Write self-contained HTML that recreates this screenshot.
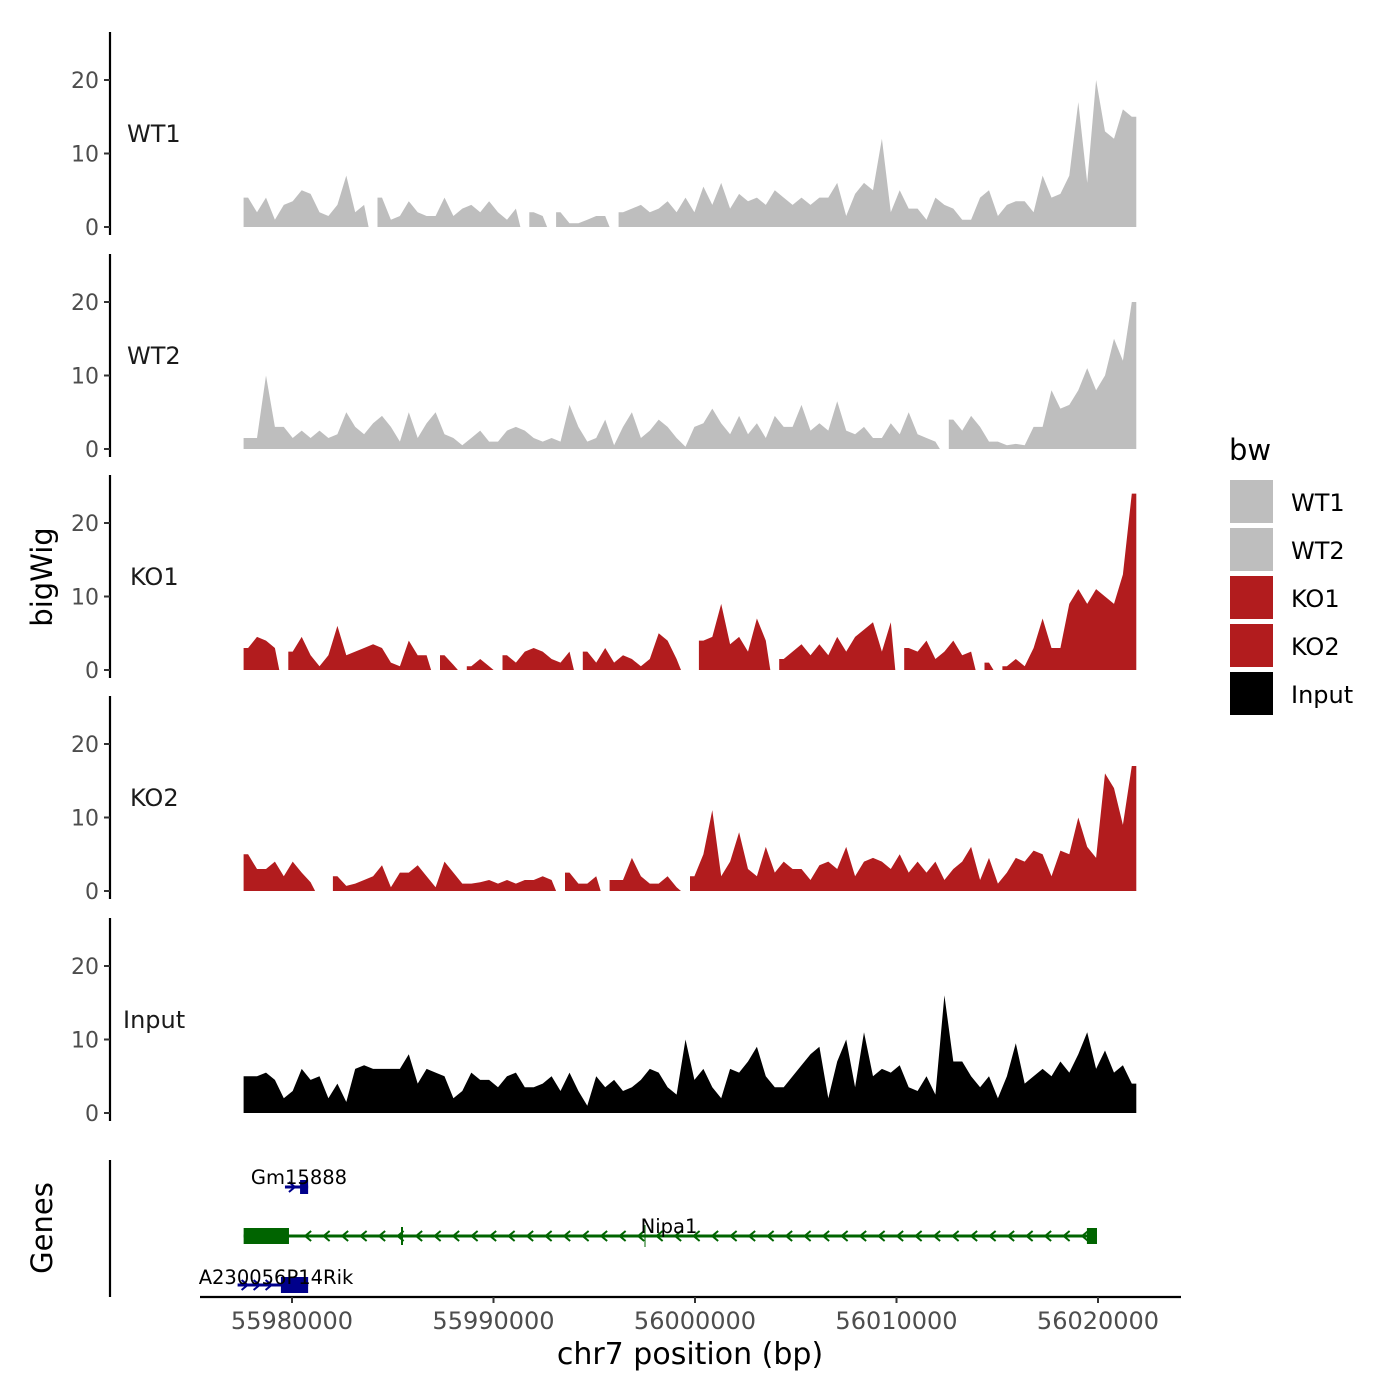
<!DOCTYPE html>
<html><head><meta charset="utf-8">
<style>
body{margin:0;background:#fff;}
svg{display:block;font-family:"DejaVu Sans","Liberation Sans",sans-serif;}
</style></head>
<body>
<svg id="chart" width="1400" height="1400" viewBox="0 0 1400 1400" xmlns="http://www.w3.org/2000/svg">
<rect width="1400" height="1400" fill="#fff"/>
<g id="tracks"></g>
<g id="genes"></g>
<g id="xaxis"></g>
<text x="0" y="0" transform="translate(52,577) rotate(-90)" text-anchor="middle" font-size="29" fill="#000">bigWig</text>
<text x="0" y="0" transform="translate(52,1228) rotate(-90)" text-anchor="middle" font-size="29" fill="#000">Genes</text>
<text x="690" y="1364" text-anchor="middle" font-size="30" fill="#000">chr7 position (bp)</text>
<g id="legend"></g>
</svg>
<script>
const binStart = 55977600;
const binStep = 443;
const trackNames = ["WT1","WT2","KO1","KO2","Input"];
const trackColors = ["#bebebe","#bebebe","#b21c1e","#b21c1e","#000000"];
const yTicks = [0,10,20];
const xTicks = [55980000,55990000,56000000,56010000,56020000];
const wt1 = [4,2,4,1,3,3.5,5,4.5,2,1.5,3,7,2,3,null,4,1,1.5,3.5,2,1.5,1.5,4,1.5,2.5,3,2,3.5,2,1,2.5,null,2,1.5,null,2,0.5,0.5,1,1.5,1.5,null,2,2.5,3,2,2.5,3.5,2,4,2,5.5,3,6,2.5,4.5,3.5,4,3,5,4,3,4,3,4,4,6,1.5,4.5,6,5,12,2,5,2.5,2.5,1,4,3,2.5,1,1,4,5,1.5,3,3.5,3.5,2,7,4,4.5,7,17,6,20,13,12,16,15];
const wt2 = [1.5,1.5,10,3,3,1.5,2.5,1.5,2.5,1.5,2,5,3,2,3.5,4.5,3,1,5,1.5,3.5,5,2,1.5,0.5,1.5,2.5,1,1,2.5,3,2.5,1.5,1,1.5,1,6,3,1,1.5,4,0.5,3,5,1.5,2.5,4,3,1.5,0.3,3,3.5,5.5,3.5,2,4.5,2,3.5,1.5,4.5,3,3,6,2.5,3.5,2.5,6.5,2.5,2,3,1.5,1.5,3.5,2,5,2,1.5,1,null,4,2.5,4.5,3,1,1,0.5,0.7,0.5,3,3,8,5.5,6,8,11,8,10,15,12,20];
const ko1 = [3,4.5,4,3,null,2.5,4.5,2,0.5,2,6,2,2.5,3,3.5,3,1,0.5,4,2,2,null,2,0.7,null,0.5,1.5,0.5,null,2,1,2.5,3,2.5,1.5,1,2.5,null,2.5,1,3,1,2,1.5,0.5,1.5,5,4,1.5,null,null,4,4.5,9,3.5,4.5,2.5,7,4,null,1.5,2.5,3.5,2,3.5,2,4.5,2.5,4.5,5.5,6.5,2.5,6.5,null,3,2.5,4,1.5,2.5,4,2,2.5,null,1,null,0.5,1.5,0.5,3,7,3,3,9,11,9,11,10,9,13,24];
const ko2 = [5,3,3,4,2,4,2.5,1.2,null,null,2,0.7,1,1.5,2,3.5,0.5,2.5,2.5,3.5,2,0.5,4,2.5,1,1,1.2,1.5,1,1.5,1,1.5,1.5,2,1.5,null,2.5,1,1,2,null,1.5,1.5,4.5,2,1,1,2,0.5,null,2,5,11,2,4,8,3,2,6,2.5,4,3,3,1.5,3.5,4,3,6,2,4,4.5,4,3,5,2.5,4,2.5,4,1.5,3,4,6,1.5,4.5,1,2.5,4.5,4,5.5,5,2,5.5,5,10,6,4.5,16,14,9,17];
const input = [5,5,5.5,4.5,2,3,6,4.5,5,2,4,1.5,6,6.5,6,6,6,6,8,4,6,5.5,5,2,3,5.5,4.5,4.5,3.5,5,5.5,3.5,3.5,4,5,3,5.5,3,1,5,3.5,4.5,3,3.5,4.5,6,5.5,3.5,2.5,10,4.5,6,3.5,2,6,5.5,7,9,5,3.5,3.5,5,6.5,8,9,2,7,10,3.5,11,5,6,5.5,6.5,3.5,3,5,2.5,16,7,7,5,3.5,5,2,5,9.5,4,5,6,5,7,5.5,8,11,6,8.5,5.5,6.5,4];
const trackValues = [wt1,wt2,ko1,ko2,input];
const geneNames = ["Gm15888","Nipa1","A230056P14Rik"];
const geneStarts = [55979650,55977600,55977300];
const geneEnds = [55980800,56019950,55980800];
const geneThickStarts = [55980400,55977600,55979450];
const geneThickEnds = [55980800,55979850,55980800];
const geneStrands = ["+","-","+"];
const nipaLastExon = [56019450,56019950];

const NS="http://www.w3.org/2000/svg";
function el(tag,attrs,parent){const e=document.createElementNS(NS,tag);for(const k in attrs)e.setAttribute(k,attrs[k]);parent.appendChild(e);return e;}
const xs = bp => 292 + (bp-55980000)*(806/40000);
const zeroY = [227,449,670,891,1113];
const ys = (t,v) => zeroY[t] - v*7.35;

const tracksG=document.getElementById('tracks');
trackNames.forEach((name,t)=>{
  const g=el('g',{},tracksG);
  
  
  const vals=trackValues[t];
  let d='',open=false;
  vals.forEach((v,i)=>{
    const x0=xs(binStart+i*binStep), x1=xs(binStart+(i+1)*binStep);
    const xc=(x0+x1)/2;
    if(v===null){ if(open){d+=`L${x0.toFixed(1)},${zeroY[t]}Z`;open=false;} return;}
    if(!open){d+=`M${x0.toFixed(1)},${zeroY[t]}L${x0.toFixed(1)},${ys(t,v).toFixed(1)}`;open=true;}
    d+=`L${xc.toFixed(1)},${ys(t,v).toFixed(1)}`;
    if(i===vals.length-1){d+=`L${x1.toFixed(1)},${ys(t,v).toFixed(1)}L${x1.toFixed(1)},${zeroY[t]}Z`;open=false;}
  });
  const p=el('path',{d:d,fill:trackColors[t]},g);
  
  
  const ax=el('line',{x1:110,x2:110,y1:zeroY[t]-195,y2:zeroY[t]+8,stroke:'#000','stroke-width':2.2},g);
  
  
  yTicks.forEach(v=>{
    const y=ys(t,v);
    el('line',{x1:104,x2:110,y1:y,y2:y,stroke:'#333','stroke-width':2},g);
    const tx=el('text',{x:99,y:y+8,'text-anchor':'end','font-size':22,fill:'#4d4d4d'},g);
    
    
    tx.textContent=v;
  });
  const lb=el('text',{x:name==='Input'?123:(name.startsWith('KO')?130:127),y:zeroY[t]-85,'font-size':24,fill:'#1a1a1a'},g);
  
  
  lb.textContent=name;
});

const gG=document.getElementById('genes');
el('line',{x1:110,x2:110,y1:1160,y2:1297,stroke:'#000','stroke-width':2.2},gG);
const geneY=[1187,1236,1285];
const geneColors=['#00008b','#006400','#00008b'];
const thickH=[14,16,16];
geneNames.forEach((n,i)=>{
  const g=el('g',{},gG);
  
  
  const c=geneColors[i], y=geneY[i];
  const xa=xs(geneStarts[i]), xb=xs(geneEnds[i]);
  el('line',{x1:xa,x2:xb,y1:y,y2:y,stroke:c,'stroke-width':3},g);
  el('rect',{x:xs(geneThickStarts[i]),y:y-thickH[i]/2,width:xs(geneThickEnds[i])-xs(geneThickStarts[i]),height:thickH[i],fill:c},g);
  const step=n==='Nipa1'?18.5:12;
  for(let x=xa+8;x<xb-6;x+=step){
    if(x>xs(geneThickStarts[i])-4 && x<xs(geneThickEnds[i])+4) continue;
    const dir=geneStrands[i]==='+'?1:-1;
    el('path',{d:`M${x-4*dir},${y-5}L${x+2*dir},${y}L${x-4*dir},${y+5}`,fill:'none',stroke:c,'stroke-width':2},g);
  }
  if(n==='Nipa1'){
    el('rect',{x:xs(nipaLastExon[0]),y:y-8,width:xs(nipaLastExon[1])-xs(nipaLastExon[0]),height:16,fill:c},g);
    el('line',{x1:402,x2:402,y1:y-9,y2:y+9,stroke:c,'stroke-width':2},g);
    el('line',{x1:645,x2:645,y1:y-11,y2:y+11,stroke:c,'stroke-width':1},g);
  }
  const lx = n==='Nipa1'?669:(n==='Gm15888'?299:276);
  const ly = n==='Nipa1'?1233:(n==='Gm15888'?1184:1284);
  const t=el('text',{x:lx,y:ly,'text-anchor':'middle','font-size':19.5,fill:'#000'},g);
  
  
  t.textContent=n;
});

const xG=document.getElementById('xaxis');
el('line',{x1:200,x2:1181,y1:1297,y2:1297,stroke:'#000','stroke-width':2.2},xG);
xTicks.forEach(v=>{
  const x=xs(v);
  el('line',{x1:x,x2:x,y1:1297,y2:1303,stroke:'#333','stroke-width':2},xG);
  const t=el('text',{x:x,y:1329,'text-anchor':'middle','font-size':24,fill:'#4d4d4d'},xG);
  
  
  t.textContent=v;
});

const lG=document.getElementById('legend');
const lt=el('text',{x:1229,y:460,'font-size':29,fill:'#000'},lG);


lt.textContent='bw';
trackNames.forEach((n,i)=>{
  const g=el('g',{},lG);
  
  
  el('rect',{x:1230,y:480+i*48,width:43,height:43,fill:trackColors[i]},g);
  const t=el('text',{x:1291,y:511+i*48,'font-size':24,fill:'#000'},g);
  t.textContent=n;
});
</script>
</body></html>
